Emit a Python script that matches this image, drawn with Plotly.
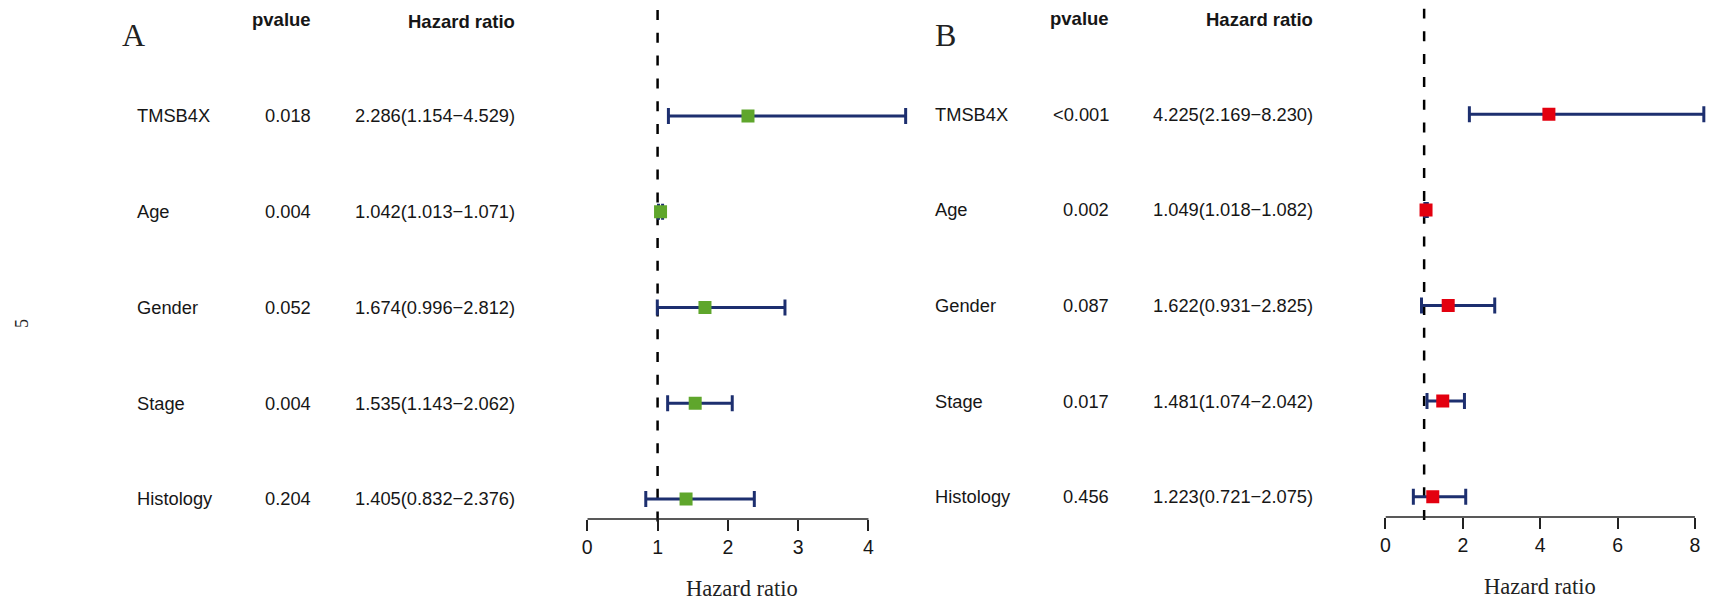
import plotly.graph_objects as go

# ---------------- data ----------------
variables = ["TMSB4X", "Age", "Gender", "Stage", "Histology"]

# Panel A
a_pvalue = ["0.018", "0.004", "0.052", "0.004", "0.204"]
a_hr = [2.286, 1.042, 1.674, 1.535, 1.405]
a_low = [1.154, 1.013, 0.996, 1.143, 0.832]
a_high = [4.529, 1.071, 2.812, 2.062, 2.376]

# Panel B
b_pvalue = ["<0.001", "0.002", "0.087", "0.017", "0.456"]
b_hr = [4.225, 1.049, 1.622, 1.481, 1.223]
b_low = [2.169, 1.018, 0.931, 1.074, 0.721]
b_high = [8.230, 1.082, 2.825, 2.042, 2.075]

a_ticks = [0, 1, 2, 3, 4]
b_ticks = [0, 2, 4, 6, 8]

row_pos = [5, 4, 3, 2, 1]

W, H = 1713, 603
SANS = "Liberation Sans, Arial, sans-serif"
SERIF = "Liberation Serif, Times New Roman, serif"
NAVY = "#1d2f6f"
TXT = "#161616"


def px_x(p):
    return p / W


def px_y(p):
    return 1 - p / H


def hr_text(h, l, u):
    return f"{h:.3f}({l:.3f}\u2212{u:.3f})"


fig = go.Figure()

panels = [
    dict(hr=a_hr, low=a_low, high=a_high, pv=a_pvalue, color="#5fa62c",
         xa="x", ya="y", xr=[0, 4.6], ticks=a_ticks,
         xdom=[584 / W, 908.3 / W], ydom=[px_y(528), px_y(10)], yr=[0.697, 6.107],
         axis_pos=px_y(519), axis_y=0.791,
         lab_x=130.5, pv_x=309, hr_x=514, head_pv_y=20, head_hr_y=21.8,
         letter="A", letter_x=115, letter_y=35, title_x=738.7, title_y=588),
    dict(hr=b_hr, low=b_low, high=b_high, pv=b_pvalue, color="#e3000f",
         xa="x2", ya="y2", xr=[0, 8.4], ticks=b_ticks,
         xdom=[1384.5 / W, 1710.4 / W], ydom=[px_y(526), px_y(8.5)], yr=[0.693, 6.107],
         axis_pos=px_y(517), axis_y=0.787,
         lab_x=931, pv_x=1109, hr_x=1314, head_pv_y=18.5, head_hr_y=20,
         letter="B", letter_x=931, letter_y=35, title_x=1539, title_y=586.5),
]

annotations = []
shapes = []

for i, p in enumerate(panels):
    plus = [u - h for h, u in zip(p["hr"], p["high"])]
    minus = [h - l for h, l in zip(p["hr"], p["low"])]
    # error bars (CI)
    fig.add_trace(go.Scatter(
        x=p["hr"], y=row_pos, mode="markers", xaxis=p["xa"], yaxis=p["ya"],
        marker=dict(size=1, color="rgba(0,0,0,0)"),
        error_x=dict(type="data", symmetric=False, array=plus, arrayminus=minus,
                     color=NAVY, thickness=3, width=8),
        hoverinfo="skip", showlegend=False,
    ))
    # hazard ratio squares
    fig.add_trace(go.Scatter(
        x=p["hr"], y=row_pos, mode="markers", xaxis=p["xa"], yaxis=p["ya"],
        marker=dict(symbol="square", size=13, color=p["color"], line=dict(width=0)),
        showlegend=False,
    ))

    # reference dashed line at HR = 1
    shapes.append(dict(type="line", xref=p["xa"], yref=p["ya"], x0=1, x1=1,
                       y0=p["yr"][1], y1=p["yr"][0],
                       line=dict(color="black", width=2.5, dash="10px,12.8px"),
                       layer="below"))
    # axis baseline spanning first to last tick
    shapes.append(dict(type="line", xref=p["xa"], yref=p["ya"],
                       x0=p["ticks"][0], x1=p["ticks"][-1],
                       y0=p["axis_y"], y1=p["axis_y"],
                       line=dict(color="#222222", width=1.5), layer="below"))

    yref = p["ya"]
    for v, pv, h, l, u, yv in zip(variables, p["pv"], p["hr"], p["low"], p["high"], row_pos):
        annotations.append(dict(text=v, x=px_x(p["lab_x"]), y=yv, xref="paper", yref=yref,
                                xanchor="left", yanchor="middle", showarrow=False,
                                font=dict(family=SANS, size=18.3, color=TXT)))
        annotations.append(dict(text=pv, x=px_x(p["pv_x"]), y=yv, xref="paper", yref=yref,
                                xanchor="right", yanchor="middle", showarrow=False,
                                font=dict(family=SANS, size=18.3, color=TXT)))
        annotations.append(dict(text=hr_text(h, l, u), x=px_x(p["hr_x"]), y=yv, xref="paper",
                                yref=yref, xanchor="right", yanchor="middle", showarrow=False,
                                font=dict(family=SANS, size=18.3, color=TXT)))
    # headers
    annotations.append(dict(text="<b>pvalue</b>", x=px_x(p["pv_x"]), y=px_y(p["head_pv_y"]),
                            xref="paper", yref="paper", xanchor="right", yanchor="middle",
                            showarrow=False, font=dict(family=SANS, size=18.5, color=TXT)))
    annotations.append(dict(text="<b>Hazard ratio</b>", x=px_x(p["hr_x"]), y=px_y(p["head_hr_y"]),
                            xref="paper", yref="paper", xanchor="right", yanchor="middle",
                            showarrow=False, font=dict(family=SANS, size=18.5, color=TXT)))
    # panel letter
    annotations.append(dict(text=p["letter"], x=px_x(p["letter_x"]), y=px_y(p["letter_y"]),
                            xref="paper", yref="paper", xanchor="left", yanchor="middle",
                            showarrow=False, font=dict(family=SERIF, size=32, color="#222222")))
    # x axis title
    annotations.append(dict(text="Hazard ratio", x=px_x(p["title_x"]), y=px_y(p["title_y"]),
                            xref="paper", yref="paper", xanchor="center", yanchor="middle",
                            showarrow=False, font=dict(family=SERIF, size=22.5, color="#222222")))

# stray rotated page number
annotations.append(dict(text="5", x=px_x(17), y=px_y(323), xref="paper", yref="paper",
                        xanchor="center", yanchor="middle", textangle=-90, showarrow=False,
                        font=dict(family=SERIF, size=18, color="#222222")))

axis_common = dict(showline=False, showgrid=False, zeroline=False, ticks="outside",
                   ticklen=11, tickwidth=1.5, tickcolor="#222222",
                   tickfont=dict(family=SANS, size=19.5, color=TXT), anchor="free")

fig.update_layout(
    width=W, height=H,
    margin=dict(l=0, r=0, t=0, b=0),
    paper_bgcolor="white", plot_bgcolor="white",
    showlegend=False,
    xaxis=dict(domain=panels[0]["xdom"], range=panels[0]["xr"], tickvals=a_ticks,
               position=panels[0]["axis_pos"], **axis_common),
    yaxis=dict(domain=panels[0]["ydom"], range=panels[0]["yr"], visible=False, anchor="x"),
    xaxis2=dict(domain=panels[1]["xdom"], range=panels[1]["xr"], tickvals=b_ticks,
                position=panels[1]["axis_pos"], **axis_common),
    yaxis2=dict(domain=panels[1]["ydom"], range=panels[1]["yr"], visible=False, anchor="x2"),
    annotations=annotations,
    shapes=shapes,
)

fig.write_html("out.html")
